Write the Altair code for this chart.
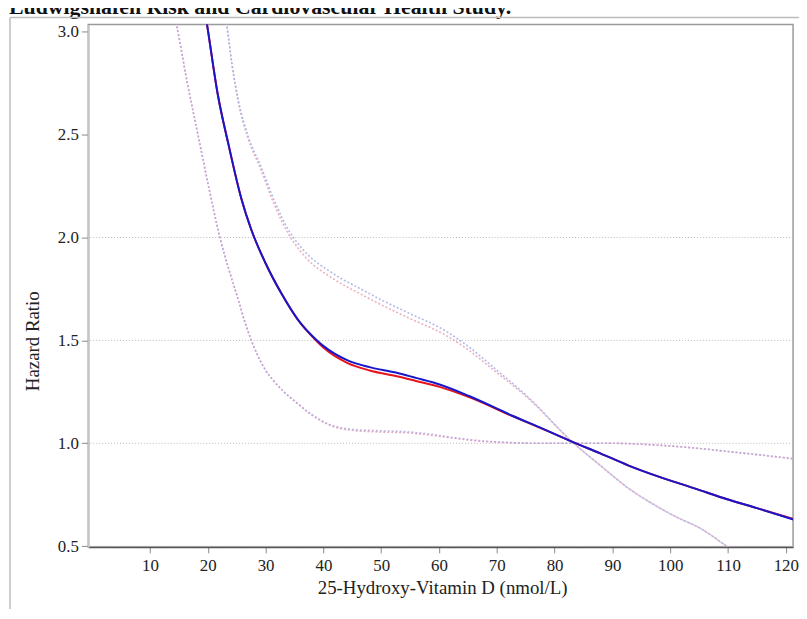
import altair as alt
import pandas as pd

FONT = "Liberation Serif"

title_text = "Ludwigshafen Risk and Cardiovascular Health Study."
x_title = "25-Hydroxy-Vitamin D  (nmol/L)"
y_title = "Hazard Ratio"

x_ticks = [10, 20, 30, 40, 50, 60, 70, 80, 90, 100, 110, 120]
y_ticks = [0.5, 1.0, 1.5, 2.0, 2.5, 3.0]
grid_values = [0.5, 1.0, 1.5, 2.0]

# main estimate (blue and red nearly identical)
x_main = [19.5, 19.9, 21.7, 23.6, 25.8, 27.5, 30.0, 32.8, 35.5, 38.9, 40.1,
          44.1, 48.0, 52.7, 56.0, 60.1, 65.2, 72.7, 78.0, 83.0, 88.0, 92.7, 98.0,
          104.2, 110.0, 115.0, 121.3]
hr_blue = [3.10, 3.03, 2.70, 2.45, 2.19, 2.04, 1.875, 1.725, 1.605, 1.50, 1.471,
           1.404, 1.370, 1.343, 1.318, 1.286, 1.230, 1.134, 1.070, 1.008, 0.950, 0.893, 0.838,
           0.781, 0.727, 0.685, 0.630]
hr_red = [3.10, 3.03, 2.70, 2.45, 2.19, 2.04, 1.875, 1.725, 1.603, 1.495, 1.463,
          1.391, 1.354, 1.326, 1.303, 1.274, 1.224, 1.132, 1.069, 1.008, 0.950, 0.893, 0.838,
          0.781, 0.727, 0.685, 0.632]

# upper 95% CI (blue and red versions)
x_upper = [22.9, 23.3, 24.2, 25.3, 27.0, 29.2, 31.5, 34.1, 36.0, 38.0, 40.5, 43.0, 46.0,
           49.8, 55.0, 61.2, 65.0, 69.8, 75.5, 83.0, 88.0, 92.6, 97.0, 101.2, 105.0, 110.0,
           111.0]
up_blue = [3.10, 3.03, 2.84, 2.665, 2.49, 2.345, 2.18, 2.03, 1.957, 1.898, 1.847, 1.802, 1.757,
           1.700, 1.630, 1.545, 1.472, 1.360, 1.222, 1.008, 0.890, 0.785, 0.705, 0.640, 0.590,
           0.495, 0.475]
up_red = [3.10, 3.03, 2.84, 2.655, 2.48, 2.33, 2.16, 2.01, 1.935, 1.873, 1.822, 1.777, 1.732,
          1.676, 1.606, 1.524, 1.455, 1.348, 1.217, 1.008, 0.890, 0.785, 0.705, 0.640, 0.590,
          0.495, 0.475]

# lower 95% CI (both versions overlap)
x_lower = [14.0, 14.6, 16.4, 18.3, 20.2, 22.1, 23.7, 25.2, 26.3, 27.4, 28.6, 30.0, 31.5,
           33.0, 35.5, 38.0, 41.2, 45.0, 49.8, 55.0, 58.3, 62.0, 66.9, 72.0, 78.0, 83.0,
           90.0, 98.4, 105.0, 110.0, 115.0, 121.3]
low_blue = [3.10, 3.03, 2.76, 2.50, 2.24, 2.00, 1.84, 1.705, 1.60, 1.51, 1.43, 1.355, 1.30,
            1.255, 1.195, 1.14, 1.09, 1.068, 1.061, 1.055, 1.045, 1.030, 1.013, 1.004, 1.0,
            1.0, 1.0, 0.99, 0.975, 0.960, 0.945, 0.925]
low_red = [3.10, 3.03, 2.76, 2.50, 2.24, 2.00, 1.84, 1.705, 1.60, 1.51, 1.43, 1.355, 1.30,
           1.255, 1.193, 1.137, 1.087, 1.063, 1.055, 1.050, 1.040, 1.027, 1.011, 1.003, 1.0,
           1.0, 1.0, 0.99, 0.975, 0.960, 0.945, 0.925]

X = alt.X(
    "x:Q",
    scale=alt.Scale(domain=[-0.67, 121.25], nice=False, zero=False),
    axis=alt.Axis(
        values=x_ticks, title=x_title, grid=False,
        labelFont=FONT, labelFontSize=17, labelColor="#222", labelPadding=5,
        tickColor="#888", tickSize=6, tickWidth=1,
        domainColor="#555", domainWidth=1.5,
        titleFont=FONT, titleFontSize=19, titleFontWeight="normal", titleColor="#222",
        titleX=357, titleY=47, titleBaseline="alphabetic", titleAnchor="middle",
    ),
)
Y = alt.Y(
    "y:Q",
    scale=alt.Scale(domain=[0.4966, 3.035], nice=False, zero=False),
    axis=alt.Axis(
        values=y_ticks, format=".1f", title=y_title, grid=False,
        labelFont=FONT, labelFontSize=17, labelColor="#222", labelPadding=3,
        tickColor="#888", tickSize=7, tickWidth=1,
        domainColor="#c4c4c4", domainWidth=2,
        titleFont=FONT, titleFontSize=19, titleFontWeight="normal", titleColor="#222",
        titleX=-56, titleY=319, titleBaseline="middle", titleAnchor="middle",
    ),
)


def line(xs, ys, color, width, dash=None, opacity=1.0):
    df = pd.DataFrame({"x": xs, "y": ys})
    kw = dict(color=color, strokeWidth=width, interpolate="monotone", clip=True,
              opacity=opacity)
    if dash is not None:
        kw["strokeDash"] = dash
    return alt.Chart(df).mark_line(**kw).encode(x=X, y=Y)


grid = alt.Chart(pd.DataFrame({"y": grid_values})).mark_rule(
    color="#b8b8b8", strokeWidth=1, strokeDash=[1, 2]
).encode(y=Y)

layers = [
    grid,
    line(x_lower, low_red, "#e3a3bd", 1.6, [2, 2], 0.9),
    line(x_lower, low_blue, "#b7a6de", 1.6, [2, 2], 0.8),
    line(x_upper, up_red, "#e8a8b8", 1.6, [2, 2], 0.9),
    line(x_upper, up_blue, "#a8b2ea", 1.6, [2, 2], 0.9),
    line(x_main, hr_red, "#e5141c", 2.0),
    line(x_main, hr_blue, "#1616cc", 2.0),
]

title = alt.Chart(pd.DataFrame({"t": [title_text]})).mark_text(
    font=FONT, fontSize=22, fontWeight="bold", align="left", baseline="alphabetic",
    color="#111"
).encode(x=alt.value(-80), y=alt.value(-11), text="t:N")

frame_top = alt.Chart(pd.DataFrame({"a": [0]})).mark_rule(
    color="#bdbdbd", strokeWidth=1.5
).encode(x=alt.value(-79), x2=alt.value(717), y=alt.value(-7))
frame_left = alt.Chart(pd.DataFrame({"a": [0]})).mark_rule(
    color="#bdbdbd", strokeWidth=1.5
).encode(x=alt.value(-79), y=alt.value(-7), y2=alt.value(590))

chart = alt.layer(*layers, title, frame_top, frame_left).properties(
    width=711, height=527,
    autosize=alt.AutoSizeParams(type="none"),
    padding={"left": 81, "top": 14, "right": 6, "bottom": 60},
    background="white",
).configure_view(stroke="#9a9a9a", strokeWidth=1.5)

chart.save("out.html", embed_options={"renderer": "svg", "actions": False})
